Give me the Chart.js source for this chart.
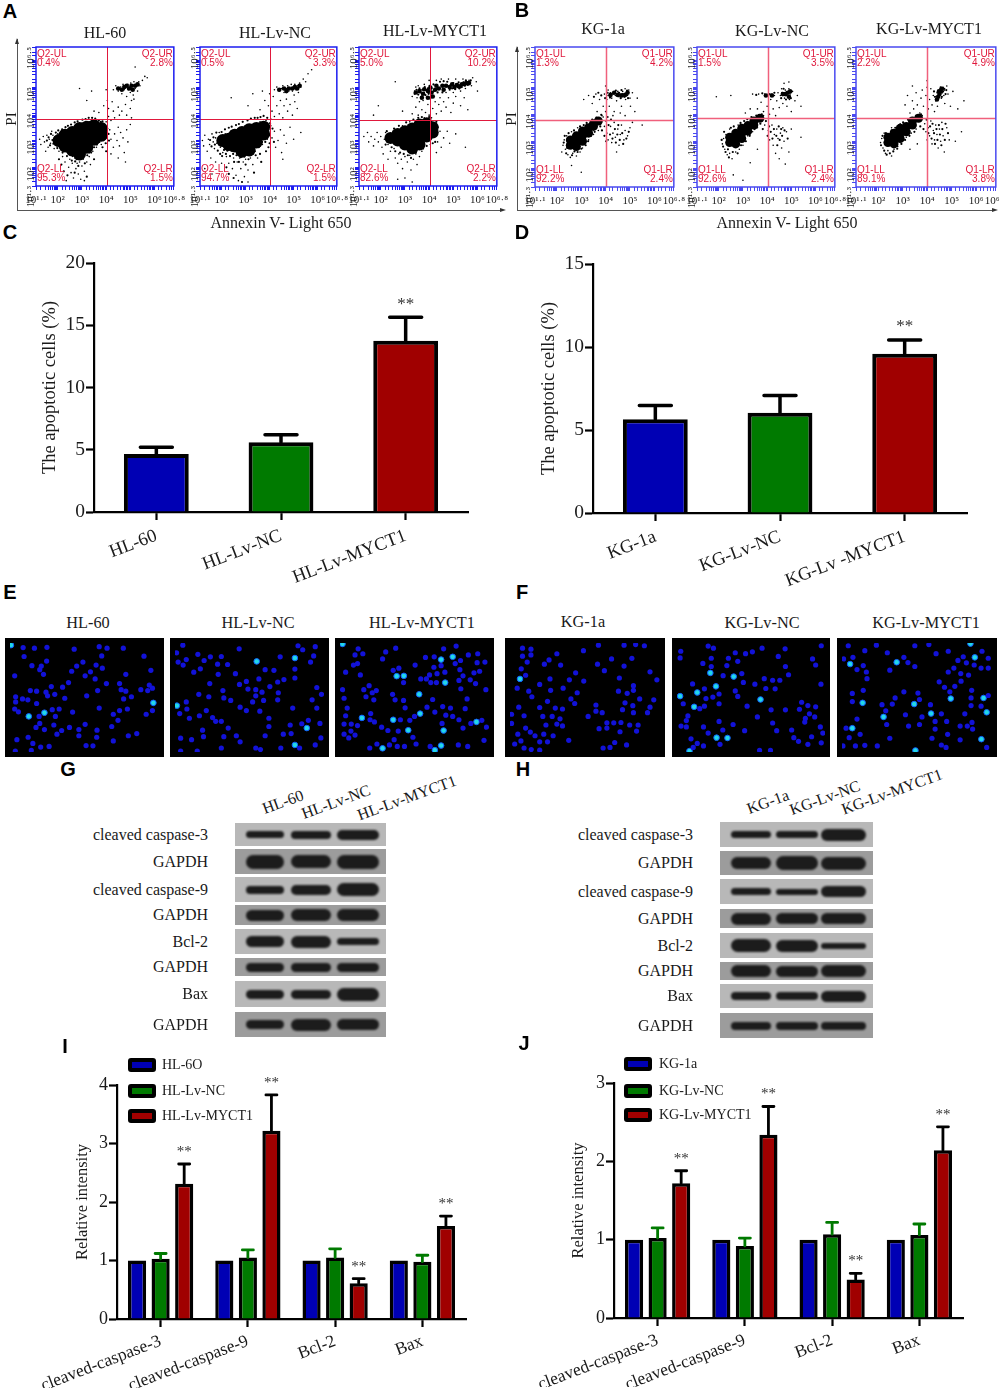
<!DOCTYPE html>
<html lang="en">
<head>
<meta charset="UTF-8" />
<title>MYCT1 apoptosis figure</title>
<script src="https://cdn.jsdelivr.net/npm/chart.js"></script>
<style>
  html, body { margin: 0; padding: 0; background: #fff; }
  #page { position: relative; width: 1000px; height: 1388px; overflow: hidden; font-family: "Liberation Serif", serif; color: #1a1a1a; }
  #page canvas { position: absolute; }
  .txt { position: absolute; white-space: nowrap; transform: translate(-50%, -50%); }
  .letter { position: absolute; font: bold 20px "Liberation Sans", sans-serif; color: #000; transform: translate(-50%, -50%); }
  .line { position: absolute; background: #555; }
  .blot { position: absolute; }
  .band { position: absolute; background: #1c1c1c; border-radius: 999px; filter: blur(1.1px); }
  .swatch { position: absolute; box-sizing: border-box; border: 4px solid #000; border-radius: 3px; width: 28px; height: 14px; }
  .head { position: absolute; width: 0; height: 0; border-style: solid; }
</style>
</head>
<body>
<div id="page"></div>
<script>
// bar panels C and D
const hlGroups = ["HL-60", "HL-Lv-NC", "HL-Lv-MYCT1"];
const kgGroups = ["KG-1a", "KG-Lv-NC", "KG-Lv -MYCT1"];
const hlApoptosis = [4.65, 5.6, 13.75];
const hlApoptosisErr = [5.2, 6.2, 15.65];
const kgApoptosis = [5.65, 6.04, 9.6];
const kgApoptosisErr = [6.48, 7.08, 10.42];
const apoptosisStars = [false, false, true];

// bar panels I and J
const proteins = ["cleaved-caspase-3", "cleaved-caspase-9", "Bcl-2", "Bax"];
const hlSeries = ["HL-6O", "HL-Lv-NC", "HL-Lv-MYCT1"];
const kgSeries = ["KG-1a", "KG-Lv-NC", "KG-Lv-MYCT1"];
const controlValues = [1, 1, 1, 1];
const hlNc = [1.03, 1.05, 1.05, 0.98];
const hlNcErr = [1.12, 1.18, 1.2, 1.09];
const hlMyct1 = [2.31, 3.22, 0.61, 1.59];
const hlMyct1Err = [2.65, 3.83, 0.69, 1.76];
const kgNc = [1.02, 0.92, 1.07, 1.06];
const kgNcErr = [1.15, 1.02, 1.22, 1.2];
const kgMyct1 = [1.72, 2.34, 0.49, 2.14];
const kgMyct1Err = [1.88, 2.7, 0.57, 2.44];

// flow cytometry: [log10 Annexin V, log10 PI]
const a1Core = [[2.05,3.0],[2.3,3.0],[2.3,3.2],[2.3,2.8],[2.6,3.3],[2.6,3.1],[2.6,2.85],[2.6,2.65],[2.9,3.45],[2.9,3.2],[2.9,2.95],[2.9,2.7],[2.9,2.5],[3.2,3.5],[3.2,3.25],[3.2,3.0],[3.2,2.75],[3.5,3.55],[3.5,3.3],[3.5,3.05],[3.8,3.45],[3.8,3.2]];
const a1Cluster = [[4.5,4.95],[4.75,5.0],[4.95,4.95],[5.05,5.05],[5.2,5.05],[4.85,5.05],[5.1,4.9],[4.65,4.9],[5.3,5.1]];
const a1Dots = [[1.25,3.05],[1.3,2.85],[1.4,3.15],[1.45,2.95],[1.55,3.2],[1.6,2.75],[1.65,3.05],[1.7,2.9],[1.8,3.2],[1.85,2.7],[1.9,3.0],[1.95,2.85],[2.0,3.25],[2.05,2.6],[2.1,3.1],[2.05,2.95],[1.75,3.35],[1.5,2.6],[2.2,2.4],[2.3,2.2],[2.4,2.55],[2.45,2.0],[2.5,2.3],[2.55,1.8],[2.6,2.15],[2.65,1.6],[2.7,2.35],[2.75,1.95],[2.8,2.15],[2.85,1.75],[2.9,2.2],[2.95,1.55],[3.0,2.05],[3.05,2.3],[3.1,1.85],[3.2,2.2],[3.3,2.4],[3.35,2.1],[3.45,2.6],[2.35,1.5],[3.1,1.5],[2.2,2.7],[2.25,3.3],[2.5,3.45],[2.7,3.55],[3.0,3.65],[3.3,3.7],[3.6,3.65],[3.85,3.6],[3.9,3.0],[3.8,2.85],[3.6,2.75],[3.4,2.7],[4.0,3.2],[4.05,2.9],[4.15,3.4],[4.2,3.05],[4.3,2.75],[4.35,3.25],[4.45,3.0],[4.5,3.5],[4.55,2.8],[4.6,3.3],[4.7,3.1],[4.75,2.55],[4.85,3.4],[4.9,2.95],[5.0,3.6],[4.2,2.5],[4.5,2.35],[4.8,2.2],[4.0,3.7],[4.1,3.9],[4.2,3.75],[4.3,4.1],[4.35,3.85],[4.5,4.25],[4.55,3.95],[4.65,4.1],[4.8,4.35],[4.85,3.95],[5.0,4.2],[5.05,3.85],[3.7,4.05],[3.9,4.3],[4.05,4.5],[4.0,4.9],[3.5,4.1],[3.2,4.5],[2.9,4.95],[3.4,4.85],[4.1,4.2],[4.25,4.45],[4.3,4.9],[4.4,5.05],[4.5,4.85],[4.6,5.0],[4.65,4.75],[4.7,5.1],[4.75,4.9],[4.8,5.0],[4.85,4.65],[4.9,5.1],[4.92,4.9],[4.95,5.0],[5.0,4.8],[5.02,5.15],[5.05,4.95],[5.1,5.05],[5.12,4.7],[5.15,5.2],[5.2,4.95],[5.25,5.1],[5.3,4.85],[5.35,5.2],[5.4,5.05],[5.5,5.25],[5.6,5.4],[5.7,5.35],[5.2,5.75],[5.05,4.5],[5.15,4.55]];
const a1Fuzz = [[1.55,3.0],[1.62,3.12],[1.68,2.82],[1.72,3.25],[1.78,3.02],[1.82,2.88],[1.88,3.12],[1.92,3.3],[1.98,2.72],[2.02,3.38],[2.12,2.72],[2.18,3.42],[2.2,2.55],[2.28,2.62],[2.32,3.5],[2.38,2.42],[2.42,3.55],[2.48,2.48],[2.55,3.6],[2.58,2.25],[2.62,2.42],[2.7,3.68],[2.72,2.22],[2.78,2.3],[2.82,3.72],[2.85,2.05],[2.92,2.3],[2.98,2.35],[3.02,3.78],[3.08,2.42],[3.12,2.15],[3.15,3.8],[3.22,2.45],[3.28,3.85],[3.3,2.55],[3.38,2.55],[3.42,3.85],[3.5,2.75],[3.55,3.82],[3.62,2.85],[3.7,3.75],[3.72,2.95],[3.78,3.7],[3.85,3.72],[3.95,3.35],[3.98,3.1],[3.92,3.6],[4.05,3.45],[4.1,3.25],[4.12,3.0],[3.98,2.9],[3.85,2.75],[4.0,2.6],[2.05,2.3],[2.15,2.1],[2.25,1.85],[2.4,1.7],[2.7,1.8],[3.2,1.65],[3.5,2.3]];

const a2Core = [[2.05,3.0],[2.3,3.05],[2.3,2.85],[2.55,3.2],[2.55,3.0],[2.55,2.8],[2.85,3.3],[2.85,3.05],[2.85,2.8],[2.85,2.6],[3.15,3.4],[3.15,3.15],[3.15,2.9],[3.15,2.65],[3.45,3.45],[3.45,3.2],[3.45,2.95],[3.75,3.5],[3.75,3.25]];
const a2Cluster = [[4.6,4.95],[4.8,4.95],[4.95,4.95],[5.05,5.0],[5.15,4.95],[4.7,4.85],[5.25,5.05],[4.4,4.9]];
const a2Dots = [[1.2,3.0],[1.25,2.8],[1.3,3.2],[1.4,2.6],[1.45,3.05],[1.5,2.85],[1.6,3.25],[1.65,2.95],[1.7,2.7],[1.75,3.1],[1.8,2.9],[1.9,3.3],[1.95,2.75],[2.0,3.05],[2.05,2.55],[2.1,2.9],[2.15,3.25],[1.55,2.35],[1.75,2.2],[2.0,2.15],[1.3,1.95],[1.6,1.75],[2.2,2.4],[2.3,2.15],[2.4,2.6],[2.45,1.95],[2.5,2.35],[2.6,1.7],[2.65,2.2],[2.7,1.5],[2.75,2.35],[2.8,1.95],[2.9,2.2],[2.95,1.65],[3.0,2.3],[3.1,1.9],[3.2,2.35],[3.3,2.1],[3.4,2.6],[3.5,2.35],[3.1,1.45],[2.4,3.35],[2.7,3.45],[3.0,3.55],[3.3,3.6],[3.6,3.7],[3.85,3.75],[3.95,3.4],[3.9,3.05],[3.7,2.85],[4.05,3.55],[4.1,3.1],[4.2,3.35],[4.25,2.75],[4.35,3.0],[4.45,3.4],[4.5,2.55],[4.6,3.2],[4.7,2.9],[4.85,3.5],[5.0,3.05],[5.3,3.3],[4.55,2.3],[4.05,3.8],[4.1,4.1],[4.2,3.9],[4.3,4.3],[4.4,4.0],[4.45,4.5],[4.55,3.85],[4.6,4.3],[4.7,4.55],[4.75,4.1],[4.85,4.35],[4.95,3.95],[5.05,4.45],[5.15,4.2],[3.6,4.15],[3.8,4.5],[3.95,4.3],[3.3,4.75],[3.1,4.3],[2.4,4.6],[3.7,4.85],[4.0,4.75],[4.2,4.9],[4.15,4.65],[4.3,5.0],[4.4,4.85],[4.5,4.95],[4.55,5.05],[4.6,4.8],[4.7,4.95],[4.75,5.05],[4.8,4.85],[4.85,4.95],[4.9,5.1],[4.95,4.85],[5.0,5.0],[5.02,4.7],[5.05,5.1],[5.1,4.9],[5.15,5.05],[5.2,4.8],[5.25,5.15],[5.3,5.0],[5.4,5.3],[5.5,5.2],[5.6,5.5],[5.75,5.65]];
const a2Fuzz = [[1.52,3.02],[1.58,2.78],[1.66,3.12],[1.72,2.85],[1.78,3.3],[1.84,2.62],[1.88,3.02],[1.94,2.5],[2.0,3.32],[2.02,2.42],[2.1,2.65],[2.14,3.42],[2.18,2.5],[2.24,2.62],[2.3,3.48],[2.35,2.42],[2.42,3.52],[2.48,2.5],[2.52,2.2],[2.6,3.58],[2.62,2.45],[2.72,3.62],[2.72,2.2],[2.8,2.38],[2.88,3.7],[2.95,2.4],[3.0,2.1],[3.08,3.75],[3.12,2.3],[3.2,2.45],[3.22,3.82],[3.28,2.5],[3.38,3.85],[3.42,2.45],[3.5,3.85],[3.55,2.75],[3.62,3.88],[3.68,2.95],[3.75,3.92],[3.82,2.95],[3.9,3.85],[3.98,3.2],[4.0,2.9],[4.02,3.65],[4.12,3.45],[4.18,2.95],[3.95,2.75],[3.85,2.6],[3.6,2.5],[2.2,2.0],[2.3,1.75],[2.5,1.6],[2.85,1.45],[3.35,1.8],[3.65,2.2]];

const a3Core = [[2.4,3.1],[2.7,3.25],[2.7,3.0],[3.0,3.35],[3.0,3.1],[3.0,2.85],[3.3,3.45],[3.3,3.2],[3.3,2.95],[3.3,2.7],[3.6,3.6],[3.6,3.35],[3.6,3.1],[3.6,2.85],[3.9,3.65],[3.9,3.4],[3.9,3.15],[4.15,3.5],[4.15,3.3]];
const a3Cluster = [[3.45,4.8],[3.6,4.85],[3.75,4.75],[3.8,4.92],[3.95,4.85],[4.05,4.98],[4.1,4.8],[4.25,4.9],[4.3,5.05],[4.4,4.95],[4.55,5.05],[4.6,4.9],[4.7,5.05],[4.85,5.0],[4.95,5.1],[5.05,5.0],[5.15,5.08],[5.25,5.02],[5.35,5.1],[5.45,5.12],[5.55,5.15],[5.65,5.15],[3.7,4.6],[3.95,4.6],[4.15,4.65]];
const a3Dots = [[1.3,3.15],[1.45,3.3],[1.5,2.95],[1.6,3.15],[1.7,2.8],[1.75,3.05],[1.85,3.3],[1.9,2.95],[2.0,3.15],[2.05,2.75],[2.15,3.05],[2.2,3.3],[2.3,2.85],[2.35,3.2],[2.4,2.6],[2.45,2.95],[2.55,2.7],[2.5,3.35],[2.1,2.5],[2.3,2.3],[2.6,2.35],[2.7,2.15],[2.75,2.5],[2.85,2.3],[2.9,1.95],[3.0,2.4],[3.1,2.2],[3.2,2.45],[3.25,1.9],[3.35,2.3],[3.45,2.5],[3.5,2.1],[3.6,2.4],[3.7,2.6],[2.7,1.55],[3.0,1.6],[3.3,1.45],[2.9,3.55],[3.2,3.7],[3.5,3.75],[3.8,3.85],[4.1,3.85],[4.3,3.2],[4.35,2.95],[4.45,3.35],[4.5,2.75],[4.6,3.1],[4.75,3.35],[4.85,2.9],[5.1,3.25],[5.5,2.75],[4.3,2.55],[4.05,2.85],[3.3,4.0],[3.45,4.25],[3.55,3.95],[3.6,4.45],[3.7,4.15],[3.75,4.5],[3.85,4.05],[3.95,4.35],[4.0,3.95],[4.05,4.55],[4.15,4.2],[4.25,4.45],[4.3,4.0],[4.4,4.35],[4.45,4.6],[4.5,4.1],[4.6,4.45],[4.7,4.25],[4.8,4.6],[4.9,4.05],[5.0,4.4],[5.1,4.65],[5.3,4.3],[5.45,4.6],[5.6,4.15],[3.3,4.65],[3.4,4.85],[3.5,4.6],[3.45,5.0],[3.55,5.05],[3.8,5.1],[4.0,5.25],[4.1,4.6],[4.3,5.25],[4.5,5.3],[4.7,4.8],[4.8,5.3],[5.0,4.8],[5.1,5.3],[5.3,4.85],[5.35,5.1],[5.4,5.3],[5.5,4.95],[5.55,5.15],[5.65,5.25],[5.75,5.05],[5.8,5.35],[5.95,5.2],[6.0,4.85],[2.9,4.1],[2.6,5.2],[1.9,4.3],[1.7,3.95]];
const a3Fuzz = [[3.4,4.75],[3.48,4.9],[3.55,4.72],[3.6,4.95],[3.65,4.8],[3.7,4.65],[3.72,4.9],[3.78,4.78],[3.82,5.0],[3.85,4.7],[3.9,4.88],[3.95,4.95],[3.98,4.75],[4.02,5.05],[4.05,4.85],[4.1,4.95],[4.12,4.78],[4.18,5.1],[4.2,4.85],[4.9,5.08],[4.95,4.95],[5.0,5.15],[5.02,5.02],[5.08,4.92],[5.12,5.1],[5.18,5.0],[5.22,5.18],[5.25,4.95],[5.3,5.08],[5.35,5.0],[5.42,5.18],[5.48,5.05],[5.52,5.25],[5.6,5.08],[5.68,5.15],[5.72,5.25],[4.85,4.9],[4.75,5.2],[4.6,5.22],[4.45,5.2],[4.35,4.8],[4.55,4.8],[2.2,2.85],[2.25,3.35],[2.45,2.75],[2.55,3.45],[2.6,2.6],[2.75,3.55],[2.8,2.55],[2.95,2.5],[3.05,3.68],[3.12,2.45],[3.25,2.35],[3.35,3.78],[3.45,2.55],[3.55,3.85],[3.7,3.88],[3.75,2.7],[3.9,2.8],[4.0,3.88],[4.3,3.7],[4.35,3.5],[4.25,2.95],[4.15,2.9]];

const b1Core = [[2.55,2.85],[2.55,3.05],[2.8,2.8],[2.8,3.0],[2.8,3.2],[3.05,3.0],[3.05,3.2],[3.05,3.38],[3.3,3.3],[3.3,3.5],[3.5,3.55],[3.5,3.65],[3.7,3.75]];
const b1Cluster = [[4.2,4.72],[4.5,4.72],[4.65,4.7],[4.8,4.72],[4.9,4.8],[4.35,4.8]];
const b1Dots = [[2.25,2.85],[2.3,3.05],[2.35,2.7],[2.4,3.2],[2.45,2.5],[2.55,2.4],[2.65,2.55],[2.8,2.45],[2.95,2.6],[3.05,2.75],[2.6,3.35],[2.85,3.5],[3.3,3.05],[3.5,3.25],[3.7,3.4],[3.9,3.9],[3.95,3.55],[4.0,3.75],[2.6,2.1],[3.0,1.85],[2.2,2.6],[4.05,3.3],[4.1,3.05],[4.2,3.55],[4.25,2.95],[4.3,3.3],[4.35,3.7],[4.4,3.15],[4.5,3.45],[4.55,2.85],[4.6,3.25],[4.65,3.6],[4.75,3.05],[4.8,3.4],[4.9,3.2],[5.0,3.5],[5.1,3.7],[5.5,3.6],[4.45,2.6],[3.3,4.7],[3.45,4.4],[3.6,4.75],[3.65,4.1],[3.75,4.55],[3.85,3.95],[3.9,4.3],[3.95,4.75],[4.0,4.1],[4.05,4.55],[4.1,4.9],[4.1,4.7],[4.15,4.3],[4.2,4.8],[4.25,4.6],[4.3,4.75],[4.35,4.1],[4.4,4.7],[4.45,4.5],[4.5,4.85],[4.55,4.65],[4.6,4.75],[4.65,4.3],[4.7,4.85],[4.72,4.65],[4.75,4.75],[4.8,4.95],[4.82,4.55],[4.85,4.8],[4.9,4.7],[4.95,4.9],[5.0,4.6],[5.02,4.3],[5.1,4.8],[5.2,4.1],[5.3,4.6],[4.3,3.95],[4.6,4.05],[4.8,3.95],[3.1,4.55],[4.0,5.05]];
const b1Fuzz = [[2.28,2.95],[2.32,3.2],[2.38,2.55],[2.42,2.75],[2.48,3.3],[2.62,2.48],[2.7,3.4],[2.72,2.62],[2.85,2.6],[2.95,3.55],[3.0,2.72],[3.1,3.6],[3.18,2.85],[3.22,3.68],[3.28,3.0],[3.4,3.2],[3.45,3.8],[3.55,3.35],[3.62,3.88],[3.78,3.55],[3.82,3.98],[3.85,3.4],[3.95,3.2],[4.02,3.0],[4.08,3.9],[4.12,3.6],[4.18,3.25],[4.22,3.8],[4.28,3.1],[4.38,3.45],[4.42,2.95],[4.48,3.25],[4.52,3.6],[4.58,3.05],[4.68,3.3],[4.72,2.9],[4.85,3.1],[4.95,3.35],[4.55,4.8],[4.62,4.6],[4.68,4.75],[4.78,4.65],[4.88,4.88],[4.92,4.6],[4.65,4.9],[4.42,4.88],[4.18,4.62],[4.08,4.8],[3.98,4.6],[3.82,4.7],[3.7,4.8],[3.52,4.65]];

const b2Core = [[2.45,2.95],[2.45,3.15],[2.7,2.9],[2.7,3.1],[2.7,3.3],[2.95,3.1],[2.95,3.3],[2.95,3.48],[3.2,3.38],[3.2,3.58],[3.45,3.6],[3.45,3.75],[3.7,3.85]];
const b2Cluster = [[4.75,4.75],[4.85,4.8],[4.9,4.65],[4.65,4.75],[4.95,4.85],[4.2,4.7],[3.95,4.7]];
const b2Dots = [[2.15,2.9],[2.2,3.1],[2.25,2.7],[2.3,3.25],[2.35,2.5],[2.45,2.55],[2.55,2.35],[2.7,2.6],[2.85,2.7],[3.0,2.85],[2.45,3.45],[2.8,3.6],[3.2,3.2],[3.4,3.35],[3.6,3.5],[3.85,3.95],[3.9,3.6],[2.6,1.75],[3.0,1.55],[3.3,2.2],[3.6,2.7],[4.05,3.4],[4.1,3.05],[4.2,3.6],[4.25,2.85],[4.3,3.25],[4.35,2.55],[4.4,3.45],[4.45,3.1],[4.5,2.35],[4.55,3.3],[4.6,2.75],[4.65,3.5],[4.7,3.0],[4.75,2.15],[4.8,3.35],[4.9,2.6],[5.0,3.45],[5.4,3.15],[3.4,4.75],[3.6,4.2],[3.65,4.75],[3.75,4.45],[3.85,4.1],[3.9,4.75],[4.0,4.3],[4.05,4.75],[4.1,4.0],[4.15,4.55],[4.2,4.75],[4.25,4.2],[4.3,4.7],[4.35,3.95],[4.4,4.5],[4.45,4.8],[4.5,4.25],[4.55,4.7],[4.6,4.95],[4.65,4.4],[4.7,4.75],[4.72,4.6],[4.75,4.9],[4.8,4.7],[4.82,4.3],[4.85,4.8],[4.9,4.95],[4.92,4.55],[4.95,4.75],[5.0,4.1],[5.05,4.85],[5.15,4.5],[5.25,4.7],[5.4,4.3],[2.5,4.7],[1.9,4.65],[3.3,4.2],[3.1,4.05],[4.7,5.15],[4.9,5.2]];
const b2Fuzz = [[2.12,3.05],[2.18,2.8],[2.22,3.35],[2.28,2.6],[2.38,2.7],[2.42,2.4],[2.5,3.5],[2.58,2.6],[2.62,3.55],[2.78,2.55],[2.9,3.68],[2.92,2.85],[3.05,3.75],[3.12,3.0],[3.18,3.82],[3.28,3.2],[3.35,3.9],[3.48,3.45],[3.55,3.95],[3.72,3.65],[3.78,4.0],[3.82,3.45],[3.95,3.75],[4.02,3.2],[4.08,3.55],[4.15,3.35],[4.22,3.1],[4.28,3.45],[4.38,3.2],[4.42,2.85],[4.48,3.55],[4.52,3.05],[4.58,3.45],[4.62,3.2],[4.72,3.4],[4.85,3.1],[4.62,4.8],[4.68,4.95],[4.78,4.8],[4.88,4.65],[4.92,4.85],[4.98,4.6],[4.58,4.6],[4.78,4.55],[4.3,4.8],[4.1,4.75],[3.8,4.78],[3.55,4.72]];

const b3Core = [[2.4,2.95],[2.4,3.15],[2.65,2.9],[2.65,3.1],[2.65,3.3],[2.9,3.1],[2.9,3.3],[2.9,3.48],[3.15,3.35],[3.15,3.55],[3.4,3.6],[3.4,3.75],[3.65,3.85]];
const b3Cluster = [[4.4,4.55],[4.45,4.65],[4.5,4.75],[4.55,4.85],[4.6,4.95],[4.48,4.85]];
const b3Dots = [[2.1,2.95],[2.15,3.1],[2.2,2.75],[2.3,2.55],[2.4,2.65],[2.55,2.45],[2.65,2.7],[2.8,2.8],[2.25,3.3],[2.55,3.5],[2.9,3.65],[3.15,3.15],[3.35,3.3],[3.55,3.45],[3.8,3.95],[3.9,3.65],[3.95,3.35],[3.3,2.7],[3.6,2.9],[4.0,3.05],[4.05,3.5],[4.1,3.2],[4.15,3.75],[4.2,2.9],[4.25,3.4],[4.3,3.05],[4.35,3.6],[4.4,3.25],[4.45,2.75],[4.5,3.45],[4.55,3.0],[4.6,3.7],[4.65,3.2],[4.7,2.6],[4.8,3.5],[4.9,3.05],[5.15,3.0],[5.4,3.35],[3.1,4.35],[3.2,4.7],[3.3,4.05],[3.4,4.5],[3.45,4.2],[3.55,4.8],[3.6,4.35],[3.7,4.05],[3.75,4.6],[3.8,4.9],[3.85,4.3],[3.95,4.7],[4.0,5.0],[4.05,4.2],[4.1,4.55],[4.15,4.95],[4.2,4.35],[4.25,4.7],[4.3,4.1],[4.35,4.5],[4.4,4.8],[4.42,4.3],[4.45,4.65],[4.5,4.85],[4.52,4.95],[4.55,4.75],[4.58,4.6],[4.6,4.9],[4.62,4.8],[4.65,5.0],[4.68,4.7],[4.7,4.9],[4.72,4.4],[4.8,5.05],[4.85,4.75],[4.95,4.3],[5.05,4.85],[5.25,4.2],[5.5,4.5],[3.4,5.05],[4.0,5.25]];
const b3Fuzz = [[2.12,2.85],[2.18,3.2],[2.25,2.65],[2.32,3.3],[2.35,2.5],[2.48,2.55],[2.55,3.4],[2.62,2.62],[2.7,3.5],[2.78,2.72],[2.88,3.6],[2.95,2.9],[3.02,3.7],[3.1,3.05],[3.22,3.8],[3.28,3.2],[3.35,3.85],[3.48,3.35],[3.55,3.95],[3.72,3.55],[3.75,4.0],[3.85,3.45],[3.98,3.8],[4.05,3.3],[4.12,3.55],[4.18,3.1],[4.22,3.65],[4.28,3.3],[4.32,2.9],[4.38,3.45],[4.42,3.05],[4.48,3.6],[4.52,3.25],[4.58,2.85],[4.62,3.45],[4.72,3.05],[4.75,3.65],[4.85,3.3],[4.48,4.7],[4.55,4.85],[4.6,4.65],[4.65,4.85],[4.7,4.95],[4.75,4.75],[4.78,4.9],[4.62,4.95],[4.55,5.0],[4.4,4.55],[4.32,4.65],[4.28,4.85]];

const flowGates = {
  a1: [4.05, 3.8], a2: [4.03, 3.8], a3: [4.02, 3.78],
  b1: [4.0, 3.8], b2: [4.02, 3.86], b3: [4.0, 3.88]
};
const xPowers = [2, 3, 4, 5, 6];
const yPowers = [2, 3, 4, 5];

// quadrant readouts UL, UR, LL, LR
const hlQuadPrefix = "Q2", kgQuadPrefix = "Q1";
const a1Quads = ["0.4%", "2.8%", "95.3%", "1.5%"];
const a2Quads = ["0.5%", "3.3%", "94.7%", "1.5%"];
const a3Quads = ["5.0%", "10.2%", "82.6%", "2.2%"];
const b1Quads = ["1.3%", "4.2%", "92.2%", "2.4%"];
const b2Quads = ["1.5%", "3.5%", "92.6%", "2.4%"];
const b3Quads = ["2.2%", "4.9%", "89.1%", "3.8%"];

// fluorescence fields: cell centres
const e1Cells = [[57,98],[93,100],[133,97],[60,127],[85,157],[115,158],[110,170],[122,185],[132,142],[220,103],[300,95],[325,100],[377,100],[308,125],[443,126],[248,145],[228,158],[212,175],[290,155],[272,177],[255,190],[310,165],[287,200],[202,212],[323,215],[147,225],[183,227],[365,215],[385,185],[465,172],[30,190],[460,220],[100,240],[80,238],[130,243],[158,250],[135,255],[190,263],[260,255],[295,238],[370,235],[385,240],[433,235],[455,238],[470,230],[403,258],[378,265],[33,258],[33,275],[55,265],[72,268],[100,280],[30,298],[42,307],[150,300],[172,298],[215,308],[300,295],[365,303],[390,298],[470,303],[108,322],[160,322],[345,315],[450,315],[255,348],[110,345],[155,350],[360,335],[340,355],[205,358],[98,358],[125,365],[180,368],[235,365],[293,367],[165,380],[73,390],[235,385],[393,385],[420,378],[37,398],[88,410],[140,420],[113,422],[258,417],[280,418],[345,402],[292,390],[32,435],[83,433]];
const e1Bright = [[18,90],[473,278],[125,310],[75,322]];
const e2Cells = [[537,90],[517,115],[585,120],[625,128],[660,127],[717,102],[548,137],[522,145],[538,155],[572,178],[593,167],[605,140],[648,152],[680,153],[848,128],[905,92],[960,95],[920,105],[945,145],[955,125],[705,183],[650,185],[740,208],[800,170],[828,172],[860,202],[895,168],[895,197],[840,210],[815,225],[780,200],[718,218],[623,215],[665,238],[770,235],[790,243],[745,233],[965,228],[980,250],[588,250],[620,258],[548,275],[668,262],[690,270],[770,255],[795,270],[840,268],[842,245],[760,275],[950,268],[550,298],[527,313],[612,303],[720,292],[740,303],[888,295],[783,305],[965,295],[558,328],[590,320],[632,326],[642,338],[660,338],[812,328],[880,350],[917,346],[938,335],[975,345],[600,367],[682,360],[812,355],[858,380],[883,378],[530,393],[565,398],[603,388],[668,388],[708,385],[800,385],[720,405],[770,425],[785,430],[910,425],[960,415],[978,392],[583,435],[660,425],[850,425],[530,435]];
const e2Bright = [[773,143],[895,132],[518,287],[933,360],[895,415]];
const e3Cells = [[60,102],[50,122],[75,118],[58,150],[45,155],[20,178],[67,187],[148,112],[180,100],[138,135],[333,102],[373,93],[412,122],[442,118],[275,130],[303,128],[387,140],[370,150],[440,147],[465,145],[242,155],[302,162],[325,157],[172,172],[190,165],[205,212],[288,187],[312,183],[337,178],[385,170],[430,180],[448,175],[395,190],[260,200],[278,200],[292,212],[310,212],[382,205],[418,203],[435,215],[95,222],[78,235],[118,238],[10,235],[105,245],[388,232],[468,235],[170,250],[15,263],[85,258],[110,268],[178,268],[205,270],[298,267],[408,265],[25,295],[280,292],[210,294],[305,308],[355,295],[402,297],[330,290],[100,313],[340,318],[362,322],[240,322],[20,320],[15,347],[38,347],[58,352],[98,333],[112,340],[195,333],[225,335],[328,345],[382,333],[420,345],[455,335],[470,357],[135,357],[155,368],[188,370],[395,360],[37,370],[15,380],[50,383],[30,392],[235,390],[175,398],[120,412],[245,412],[97,425],[160,415],[185,420],[208,420],[290,420],[380,415],[410,420],[462,400]];
const e3Bright = [[10,86],[325,137],[362,128],[183,191],[206,190],[338,212],[255,250],[72,327],[258,313],[172,333],[438,340],[220,367],[333,368],[138,426],[325,417],[305,432]];
const f1Cells = [[550,100],[577,103],[577,122],[550,126],[565,145],[546,167],[620,152],[635,138],[660,118],[672,155],[745,108],[793,90],[875,90],[912,88],[940,92],[835,135],[790,152],[900,133],[875,158],[812,173],[560,188],[720,180],[700,203],[746,207],[638,200],[605,218],[860,197],[905,222],[958,177],[980,203],[533,230],[570,240],[640,237],[680,230],[725,245],[857,240],[885,247],[905,237],[580,258],[705,265],[717,280],[630,273],[925,265],[970,268],[878,278],[903,287],[785,285],[870,300],[538,292],[605,293],[655,295],[678,298],[958,292],[785,305],[805,310],[905,310],[950,310],[515,315],[555,320],[615,322],[645,322],[760,322],[670,330],[820,343],[865,342],[842,343],[893,350],[920,350],[625,350],[660,347],[678,353],[515,345],[560,360],[795,362],[820,360],[862,372],[915,370],[575,373],[535,380],[590,385],[618,380],[648,385],[605,405],[630,405],[545,402],[525,412],[698,400],[845,407],[808,425],[830,423],[883,415],[555,425],[578,430],[605,432]];
const f1Bright = [[542,200]];
const f2Cells = [[120,93],[137,100],[32,110],[30,132],[130,133],[185,133],[207,115],[240,118],[262,112],[293,100],[345,127],[367,102],[483,92],[455,135],[465,155],[103,150],[130,160],[180,157],[215,143],[368,160],[168,190],[228,183],[378,187],[70,217],[233,212],[270,218],[300,200],[327,205],[350,205],[482,218],[305,232],[335,233],[108,233],[207,240],[135,260],[155,250],[215,258],[113,265],[40,282],[93,298],[108,290],[155,282],[245,290],[420,277],[440,288],[413,300],[322,302],[368,302],[465,292],[445,315],[55,322],[278,325],[432,330],[462,325],[155,340],[50,337],[33,355],[200,350],[327,345],[430,342],[105,358],[50,358],[237,370],[120,378],[167,368],[388,368],[340,370],[480,358],[65,397],[395,393],[452,390],[488,378],[410,405],[440,415],[85,412],[158,415],[72,425],[105,420],[320,435],[285,435],[483,410]];
const f2Bright = [[127,181],[202,193],[145,225],[85,245],[30,257],[288,268],[75,292],[147,393],[182,394],[60,437]];
const f3Cells = [[537,92],[590,108],[627,90],[662,115],[750,92],[795,88],[857,110],[965,110],[818,118],[522,135],[552,130],[715,130],[728,147],[750,160],[905,128],[888,140],[915,148],[940,155],[985,133],[565,170],[585,157],[595,178],[670,172],[875,165],[857,178],[897,183],[922,188],[962,165],[985,165],[597,200],[828,210],[898,208],[845,228],[878,225],[932,238],[862,243],[550,248],[585,238],[715,243],[760,247],[550,275],[687,263],[765,268],[678,283],[645,285],[930,263],[985,255],[800,285],[930,288],[962,290],[657,305],[910,315],[565,332],[720,318],[835,315],[773,325],[815,340],[852,340],[660,350],[730,355],[765,350],[815,365],[895,355],[918,355],[933,343],[935,365],[530,362],[540,393],[575,382],[855,382],[670,395],[805,395],[895,400],[835,417],[560,420],[520,420],[590,418],[630,420],[850,425],[980,425]];
const f3Bright = [[928,85],[543,152],[692,146],[942,130],[865,265],[583,279],[748,283],[970,263],[980,310],[802,314],[650,325],[550,362],[963,398],[752,435]];

// western blot rows: band thickness per lane
const blotLabels = ["cleaved caspase-3", "GAPDH", "cleaved caspase-9", "GAPDH", "Bcl-2", "GAPDH", "Bax", "GAPDH"];
const hlBands = [[7,8,10],[14,13,14],[8,10,13],[11,12,12],[11,12,7],[9,9,9],[9,9,13],[9,12,11]];
const kgBands = [[7,7,12],[12,14,13],[7,6,11],[12,11,11],[13,12,6],[12,11,12],[8,8,11],[8,8,8]];

const BLUE = "#0000b4", GREEN = "#007a00", RED = "#a00000";
const page = document.getElementById("page");
Chart.defaults.font.family = '"Liberation Serif", serif';
Chart.defaults.color = "#1a1a1a";
Chart.defaults.animation = false;

function addText(t, x, y, size, rot) {
  const d = document.createElement("div");
  d.className = "txt";
  d.textContent = t;
  d.style.left = x + "px";
  d.style.top = y + "px";
  d.style.fontSize = size + "px";
  if (rot) d.style.transform = "translate(-50%,-50%) rotate(" + rot + "deg)";
  page.appendChild(d);
}
function addLetter(t, x, y) {
  const d = document.createElement("div");
  d.className = "letter";
  d.textContent = t;
  d.style.left = x + "px";
  d.style.top = y + "px";
  page.appendChild(d);
}
function addRect(cls, x, y, w, h, bg) {
  const d = document.createElement("div");
  d.className = cls;
  d.style.cssText = "left:" + x + "px;top:" + y + "px;width:" + w + "px;height:" + h + "px;" + (bg ? "background:" + bg + ";" : "");
  page.appendChild(d);
  return d;
}
function newCanvas(x, y, w, h) {
  const c = document.createElement("canvas");
  c.width = w;
  c.height = h;
  c.style.left = x + "px";
  c.style.top = y + "px";
  c.style.width = w + "px";
  c.style.height = h + "px";
  page.appendChild(c);
  return c;
}

// whiskers and significance marks above the bars
const barExtras = {
  id: "barExtras",
  afterDatasetsDraw(chart, args, opts) {
    const ctx = chart.ctx;
    const y = chart.scales.y;
    chart.data.datasets.forEach((ds, i) => {
      const meta = chart.getDatasetMeta(i);
      meta.data.forEach((bar, j) => {
        if (ds.errTop) {
          const top = y.getPixelForValue(ds.errTop[j]);
          ctx.save();
          ctx.strokeStyle = ds.errColor;
          ctx.lineWidth = opts.width;
          ctx.lineCap = "round";
          ctx.beginPath();
          ctx.moveTo(bar.x, bar.y);
          ctx.lineTo(bar.x, top);
          ctx.moveTo(bar.x - opts.cap, top);
          ctx.lineTo(bar.x + opts.cap, top);
          ctx.stroke();
          ctx.restore();
          if (ds.stars && ds.stars[j]) {
            ctx.save();
            ctx.fillStyle = "#333";
            ctx.font = opts.starSize + 'px "Liberation Serif"';
            ctx.textAlign = "center";
            ctx.textBaseline = "middle";
            ctx.fillText("**", bar.x, top - opts.starGap);
            ctx.restore();
          }
        }
      });
    });
  }
};

function barChart(plot, cfg) {
  const L = cfg.left, H = cfg.bottom, padTop = 14, padRight = 8;
  const x0 = plot.left - L, y0 = plot.top - padTop;
  const w = plot.right - plot.left + L + padRight, h = plot.bottom - plot.top + padTop + H;
  const axis = { color: "#000", tickColor: "#000", tickWidth: cfg.axisWidth, tickLength: 8, drawOnChartArea: false };
  new Chart(newCanvas(x0, y0, w, h), {
    type: "bar",
    data: { labels: cfg.labels, datasets: cfg.datasets },
    plugins: [barExtras],
    options: {
      responsive: false,
      devicePixelRatio: 1,
      layout: { padding: { top: padTop, right: padRight, left: 0, bottom: 0 } },
      barPercentage: cfg.barPct,
      categoryPercentage: cfg.catPct,
      plugins: {
        legend: { display: false },
        tooltip: { enabled: false },
        barExtras: { width: cfg.errWidth, cap: cfg.cap, starSize: cfg.starSize, starGap: cfg.starGap }
      },
      scales: {
        x: {
          afterFit(s) { s.height = H; },
          grid: { ...axis, offset: false },
          border: { color: "#000", width: cfg.axisWidth },
          ticks: { font: { size: cfg.xFont }, minRotation: 21, maxRotation: 21, padding: cfg.xPad, autoSkip: false, color: "#1a1a1a" }
        },
        y: {
          min: 0,
          max: cfg.yMax,
          afterFit(s) { s.width = L; },
          grid: axis,
          border: { color: "#000", width: cfg.axisWidth },
          ticks: { stepSize: cfg.yStep, font: { size: cfg.yFont }, padding: 1, color: "#1a1a1a" },
          title: { display: true, text: cfg.yTitle, font: { size: cfg.titleFont }, color: "#1a1a1a", padding: { top: cfg.titlePad, bottom: 0 } }
        }
      }
    }
  });
}

barChart({ left: 94, right: 468, top: 263, bottom: 512 }, {
  left: 60, bottom: 76, labels: hlGroups, yMax: 20, yStep: 5, axisWidth: 2.2,
  datasets: [{ data: hlApoptosis, backgroundColor: [BLUE, GREEN, RED], borderColor: "#000", borderWidth: 4, errTop: hlApoptosisErr, errColor: "#000", stars: apoptosisStars }],
  barPct: 0.52, catPct: 1, errWidth: 3.5, cap: 16, starSize: 17, starGap: 13,
  xFont: 18.5, xPad: 5, yFont: 19.5, titleFont: 18.5, titlePad: 5, yTitle: "The apoptotic cells (%)"
});
barChart({ left: 593, right: 967, top: 264, bottom: 513 }, {
  left: 60, bottom: 76, labels: kgGroups, yMax: 15, yStep: 5, axisWidth: 2.2,
  datasets: [{ data: kgApoptosis, backgroundColor: [BLUE, GREEN, RED], borderColor: "#000", borderWidth: 4, errTop: kgApoptosisErr, errColor: "#000", stars: apoptosisStars }],
  barPct: 0.52, catPct: 1, errWidth: 3.5, cap: 16, starSize: 17, starGap: 13,
  xFont: 18.5, xPad: 5, yFont: 19.5, titleFont: 18.5, titlePad: 5, yTitle: "The apoptotic cells (%)"
});

function groupedSets(names, nc, ncErr, myct1, myct1Err) {
  return [
    { label: names[0], data: controlValues, backgroundColor: BLUE, borderColor: "#000", borderWidth: 3.5 },
    { label: names[1], data: nc, backgroundColor: GREEN, borderColor: "#000", borderWidth: 3.5, errTop: ncErr, errColor: GREEN },
    { label: names[2], data: myct1, backgroundColor: RED, borderColor: "#000", borderWidth: 3.5, errTop: myct1Err, errColor: "#000", stars: [true, true, true, true] }
  ];
}
const groupedCommon = {
  left: 105, bottom: 69, labels: proteins, axisWidth: 2.2, barPct: 0.77, catPct: 0.81, yStep: 1,
  errWidth: 2.8, cap: 5.5, starSize: 15, starGap: 12,
  xFont: 17.5, xPad: 4, yFont: 18, titleFont: 16.5, yTitle: "Relative intensity"
};
barChart({ left: 117, right: 466, top: 1085, bottom: 1319 }, {
  ...groupedCommon, yMax: 4, titlePad: 61, datasets: groupedSets(hlSeries, hlNc, hlNcErr, hlMyct1, hlMyct1Err)
});
barChart({ left: 614, right: 963, top: 1083, bottom: 1318 }, {
  ...groupedCommon, yMax: 3, titlePad: 60, datasets: groupedSets(kgSeries, kgNc, kgNcErr, kgMyct1, kgMyct1Err)
});

function legendRows(names, swatchX, textX, rows) {
  [BLUE, GREEN, RED].forEach((col, i) => {
    const s = addRect("swatch", swatchX, rows[i], 0, 0, col);
    s.style.width = "28px";
    s.style.height = "14px";
    const t = document.createElement("div");
    t.className = "txt";
    t.style.cssText = "left:" + textX + "px;top:" + (rows[i] + 7) + "px;font-size:14px;transform:translateY(-50%);";
    t.textContent = names[i];
    page.appendChild(t);
  });
}
legendRows(hlSeries, 128, 162, [1058, 1084, 1109]);
legendRows(kgSeries, 624, 659, [1057, 1084, 1108]);

// flow cytometry panels
function powerLabel(v) {
  const sup = { "1": "¹", "2": "²", "3": "³", "4": "⁴", "5": "⁵", "6": "⁶", "8": "⁸", ".": "·" };
  return "10" + String(v).split("").map(c => sup[c]).join("");
}
const flowFrame = {
  id: "flowFrame",
  afterDraw(chart, args, opts) {
    const ctx = chart.ctx, a = chart.chartArea, sx = chart.scales.x, sy = chart.scales.y;
    ctx.save();
    ctx.strokeStyle = opts.gateColor;
    ctx.lineWidth = opts.gateWidth;
    ctx.beginPath();
    const gx = Math.round(sx.getPixelForValue(10 ** opts.gate[0])) + 0.5;
    const gy = Math.round(sy.getPixelForValue(10 ** opts.gate[1])) + 0.5;
    ctx.moveTo(gx, a.top);
    ctx.lineTo(gx, a.bottom);
    ctx.moveTo(a.left, gy);
    ctx.lineTo(a.right, gy);
    ctx.stroke();
    ctx.strokeStyle = opts.frameColor;
    ctx.lineWidth = 1.5;
    ctx.strokeRect(a.left, a.top, a.right - a.left, a.bottom - a.top);
    ctx.fillStyle = "#e0183c";
    ctx.font = '10px "Liberation Sans"';
    const names = ["UL", "UR", "LL", "LR"];
    names.forEach((n, i) => {
      const right = i % 2 === 1, low = i >= 2;
      ctx.textAlign = right ? "right" : "left";
      const px = right ? a.right - 1 : a.left + 1;
      const py = low ? a.bottom - 14 : a.top + 10;
      ctx.fillText(opts.prefix + "-" + n, px, py);
      ctx.fillText(opts.quads[i], px, py + 9);
    });
    ctx.restore();
  }
};
function flowPanel(left, right, top, bottom, clouds, gate, quads, prefix, coreRadius, soft) {
  const L = 24, padT = 14, padR = 14, H = 26;
  const toPoints = list => list.map(p => ({ x: 10 ** p[0], y: 10 ** p[1] }));
  const blue = soft ? "#4a4af0" : "#1c1cf0";
  const scaleBase = {
    type: "logarithmic",
    grid: { drawOnChartArea: false, tickColor: blue, tickLength: 4, tickWidth: 1 },
    border: { display: false }
  };
  new Chart(newCanvas(left - L, top - padT, right - left + L + padR, bottom - top + padT + H), {
    type: "scatter",
    data: {
      datasets: [
        { data: toPoints(clouds.core), pointRadius: coreRadius, backgroundColor: "#000", borderWidth: 0 },
        { data: toPoints(clouds.cluster), pointRadius: 2.3, backgroundColor: "#000", borderWidth: 0 },
        { data: toPoints(clouds.fuzz), pointRadius: 1.1, backgroundColor: "#000", borderWidth: 0 },
        { data: toPoints(clouds.dots), pointRadius: 0.8, backgroundColor: "#000", borderWidth: 0 }
      ]
    },
    plugins: [flowFrame],
    options: {
      responsive: false,
      devicePixelRatio: 1,
      layout: { padding: { top: padT, right: padR, left: 0, bottom: 0 } },
      plugins: {
        legend: { display: false },
        tooltip: { enabled: false },
        flowFrame: { gate, quads, prefix, gateColor: soft ? "#f0607c" : "#e0183c", gateWidth: soft ? 1.5 : 1, frameColor: blue }
      },
      scales: {
        x: {
          ...scaleBase,
          min: 10 ** 1.1,
          max: 10 ** 6.8,
          afterFit(s) { s.height = H; },
          ticks: {
            autoSkip: false, maxRotation: 0, minRotation: 0, padding: 4, color: "#222", font: { size: 11 },
            callback(v) {
              const e = Math.log10(v);
              if (Math.abs(e - 1.1) < 1e-6) return powerLabel(1.1);
              if (Math.abs(e - 6.8) < 1e-6) return powerLabel(6.8);
              const hit = xPowers.find(k => Math.abs(e - k) < 1e-6);
              return hit ? powerLabel(hit) : "";
            }
          }
        },
        y: {
          ...scaleBase,
          min: 10 ** 1.3,
          max: 10 ** 6.5,
          afterFit(s) { s.width = L; },
          ticks: {
            autoSkip: false, minRotation: 90, maxRotation: 90, padding: 1, color: "#222", font: { size: 11 },
            callback(v) {
              const e = Math.log10(v);
              if (Math.abs(e - 1.3) < 1e-6) return powerLabel(1.3);
              if (Math.abs(e - 6.5) < 1e-6) return powerLabel(6.5);
              const hit = yPowers.find(k => Math.abs(e - k) < 1e-6);
              return hit ? powerLabel(hit) : "";
            }
          }
        }
      }
    }
  });
}
flowPanel(36, 175, 47, 186, { core: a1Core, cluster: a1Cluster, fuzz: a1Fuzz, dots: a1Dots }, flowGates.a1, a1Quads, hlQuadPrefix, 6.5, false);
flowPanel(200, 338, 47, 186, { core: a2Core, cluster: a2Cluster, fuzz: a2Fuzz, dots: a2Dots }, flowGates.a2, a2Quads, hlQuadPrefix, 6.5, false);
flowPanel(359, 498, 47, 186, { core: a3Core, cluster: a3Cluster, fuzz: a3Fuzz, dots: a3Dots }, flowGates.a3, a3Quads, hlQuadPrefix, 6, false);
flowPanel(535, 675, 47, 187, { core: b1Core, cluster: b1Cluster, fuzz: b1Fuzz, dots: b1Dots }, flowGates.b1, b1Quads, kgQuadPrefix, 4.5, true);
flowPanel(697, 836, 47, 187, { core: b2Core, cluster: b2Cluster, fuzz: b2Fuzz, dots: b2Dots }, flowGates.b2, b2Quads, kgQuadPrefix, 4.5, true);
flowPanel(856, 997, 47, 187, { core: b3Core, cluster: b3Cluster, fuzz: b3Fuzz, dots: b3Dots }, flowGates.b3, b3Quads, kgQuadPrefix, 4.5, true);

// fluorescence panels
function cellField(left, right, top, bottom, cells, bright, xr, yr) {
  const c = newCanvas(left, top, right - left, bottom - top);
  new Chart(c, {
    type: "scatter",
    data: {
      datasets: [
        { data: cells.map(p => ({ x: p[0], y: p[1] })), pointRadius: 2.6, backgroundColor: "#1212d8", borderWidth: 0 },
        { data: bright.map(p => ({ x: p[0], y: p[1] })), pointRadius: 2.8, backgroundColor: "#22d8e8", borderColor: "#1060ff", borderWidth: 1 }
      ]
    },
    plugins: [{
      id: "fieldBackground",
      beforeDraw(chart) {
        chart.ctx.fillStyle = "#000";
        chart.ctx.fillRect(0, 0, chart.width, chart.height);
      }
    }],
    options: {
      responsive: false,
      devicePixelRatio: 1,
      layout: { padding: 0 },
      plugins: { legend: { display: false }, tooltip: { enabled: false } },
      scales: {
        x: { display: false, min: xr[0], max: xr[1] },
        y: { display: false, min: yr[0], max: yr[1], reverse: true }
      }
    }
  });
}
cellField(5, 164, 638, 757, e1Cells, e1Bright, [15, 491], [83, 438]);
cellField(170, 329, 638, 757, e2Cells, e2Bright, [512, 988], [83, 438]);
cellField(335, 494, 638, 757, e3Cells, e3Bright, [2, 478], [83, 438]);
cellField(505, 665, 638, 757, f1Cells, f1Bright, [510, 990], [83, 438]);
cellField(672, 830, 638, 757, f2Cells, f2Bright, [20, 495], [83, 440]);
cellField(837, 997, 638, 757, f3Cells, f3Bright, [517, 997], [83, 440]);

// western blots
function blots(x, w, rows, lanes, bands, labelRight) {
  rows.forEach((r, i) => {
    const gapdh = i % 2 === 1;
    const el = addRect("blot", x, r[0], w, r[1] - r[0], gapdh ? "#9c9c9c" : "#b8b8b8");
    const mid = (r[1] - r[0]) / 2;
    lanes.forEach((lane, j) => {
      const b = document.createElement("div");
      b.className = "band";
      const t = bands[i][j];
      b.style.cssText = "left:" + (lane[0] - x) + "px;width:" + (lane[1] - lane[0]) + "px;top:" + (mid - t / 2) + "px;height:" + t + "px;";
      el.appendChild(b);
    });
    const lab = document.createElement("div");
    lab.className = "txt";
    lab.textContent = blotLabels[i];
    lab.style.cssText = "left:" + labelRight + "px;top:" + (r[0] + mid) + "px;font-size:16px;transform:translate(-100%,-50%);";
    page.appendChild(lab);
  });
}
blots(235, 151, [[823,846],[849,874],[877,902],[905,925],[929,954],[958,976],[981,1007],[1012,1037]],
  [[246,284],[291,331],[337,379]], hlBands, 208);
blots(720, 153, [[822,847],[851,875],[879,904],[909,928],[933,958],[962,980],[984,1008],[1013,1038]],
  [[731,771],[776,818],[821,866]], kgBands, 693);

// figure text and arrows
[["A",10,11],["B",522,10],["C",10,232],["D",522,232],["E",10,592],["F",522,592],["G",68,769],["H",523,769],["I",65,1046],["J",524,1043]].forEach(l => addLetter(...l));
addText("HL-60", 105, 33, 16);
addText("HL-Lv-NC", 275, 33, 16);
addText("HL-Lv-MYCT1", 435, 31, 16);
addText("KG-1a", 603, 29, 16);
addText("KG-Lv-NC", 772, 31, 16);
addText("KG-Lv-MYCT1", 929, 29, 16);
addText("Annexin V- Light 650", 281, 223, 16);
addText("Annexin V- Light 650", 787, 223, 16);
addText("PI", 11, 119, 15, -90);
addText("PI", 511, 119, 15, -90);
addRect("line", 17, 210, 486, 1);
addRect("line", 17, 39, 1, 171);
addRect("line", 517, 210, 478, 1);
addRect("line", 517, 47, 1, 163);
function addHead(x, y, dir) {
  const h = document.createElement("div");
  h.className = "head";
  h.style.left = x + "px";
  h.style.top = y + "px";
  h.style.borderWidth = dir === "right" ? "2.5px 0 2.5px 6px" : "0 2.5px 6px 2.5px";
  h.style.borderColor = dir === "right" ? "transparent transparent transparent #333" : "transparent transparent #333 transparent";
  page.appendChild(h);
}
addHead(500, 208, "right");
addHead(15, 38, "up");
addHead(992, 208, "right");
addHead(515, 46, "up");
addText("HL-60", 88, 623, 16.3);
addText("HL-Lv-NC", 258, 623, 16.3);
addText("HL-Lv-MYCT1", 422, 623, 16.3);
addText("KG-1a", 583, 622, 16.3);
addText("KG-Lv-NC", 762, 623, 16.3);
addText("KG-Lv-MYCT1", 926, 623, 16.3);
addText("HL-60", 283, 802, 16, -20);
addText("HL-Lv-NC", 336, 802, 16, -20);
addText("HL-Lv-MYCT1", 407, 798, 16, -20);
addText("KG-1a", 768, 802, 16, -20);
addText("KG-Lv-NC", 825, 798, 16, -20);
addText("KG-Lv-MYCT1", 892, 792, 16, -20);
</script>
</body>
</html>
